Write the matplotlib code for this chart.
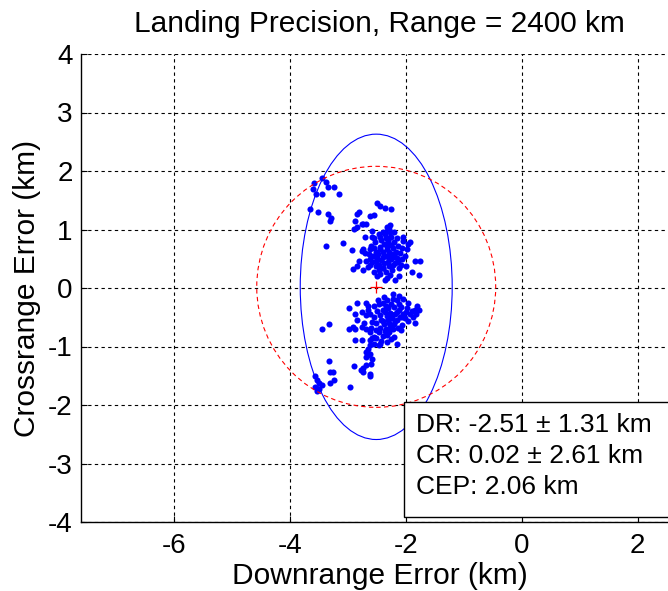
import numpy as np
import matplotlib
matplotlib.use("Agg")
import matplotlib.pyplot as plt
from matplotlib.patches import Ellipse, Circle, Rectangle

plt.rcParams['font.family'] = ['Liberation Sans', 'DejaVu Sans']

# Impact points (downrange, crossrange) in km
dr_upper_left = [-3.60, -3.58, -3.44, -3.38, -3.35, -3.24, -3.15, -3.44, -3.55, -3.66,
                 -3.51, -3.35, -3.29, -3.31, -3.37, -3.09]
cr_upper_left = [1.69, 1.79, 1.88, 1.82, 1.73, 1.73, 1.60, 1.60, 1.60, 1.35,
                 1.30, 1.27, 1.19, 1.15, 0.71, 0.77]

dr_upper = [-2.49, -2.45, -2.36, -2.25, -2.55, -2.62, -2.80, -2.84, -2.87, -2.76,
            -2.73, -2.69, -2.89, -2.84, -2.33, -2.29, -2.28, -2.71, -2.58, -2.55,
            -2.47, -2.36, -2.25, -2.15, -2.04, -1.93, -1.96, -2.92, -2.76, -2.73,
            -2.62, -2.55, -2.44, -2.33, -2.22, -2.07, -1.98, -2.80, -2.69, -2.62,
            -2.51, -2.40, -2.29, -2.18, -2.07, -1.85, -1.76, -2.91, -2.84, -2.73,
            -2.62, -2.51, -2.40, -2.29, -2.22, -2.11, -2.00, -1.89, -1.78, -2.55,
            -2.44, -2.33, -2.18, -2.11, -2.36,
            -2.28, -2.27, -2.30, -2.26, -2.29, -2.27, -2.31, -2.42, -2.38, -2.45,
            -2.40, -2.48, -2.35, -2.43, -2.50, -2.37, -2.46, -2.52, -2.56, -2.58,
            -2.20, -2.17, -2.22, -2.13, -2.19, -2.24, -2.14, -2.10, -2.05, -2.08,
            -2.34, -2.40, -2.33, -2.25, -2.35, -2.47, -2.60, -2.64, -2.53, -2.32,
            -2.21, -2.16, -2.02, -2.44, -2.39, -2.28, -2.50, -2.66, -2.70, -2.58]
cr_upper = [1.45, 1.40, 1.37, 1.35, 1.25, 1.23, 1.30, 1.27, 1.14, 1.10,
            1.10, 1.09, 1.01, 1.05, 1.05, 1.01, 1.08, 0.88, 0.88, 0.85,
            0.92, 0.92, 0.88, 0.85, 0.88, 0.79, 0.75, 0.65, 0.63, 0.66,
            0.66, 0.69, 0.66, 0.72, 0.69, 0.69, 0.66, 0.46, 0.46, 0.50,
            0.46, 0.53, 0.50, 0.53, 0.50, 0.46, 0.46, 0.32, 0.37, 0.30,
            0.40, 0.37, 0.34, 0.37, 0.40, 0.34, 0.37, 0.27, 0.23, 0.27,
            0.24, 0.17, 0.14, 0.21, 0.14,
            0.95, 0.88, 0.80, 0.74, 0.62, 0.56, 0.45, 0.82, 0.75, 0.70,
            0.62, 0.58, 0.55, 0.48, 0.52, 0.42, 0.40, 0.62, 0.55, 0.44,
            0.78, 0.62, 0.58, 0.45, 0.42, 0.30, 0.72, 0.60, 0.80, 0.40,
            0.86, 0.95, 0.66, 0.50, 0.28, 0.30, 0.72, 0.58, 0.78, 0.98,
            0.96, 0.52, 0.55, 0.88, 0.35, 0.22, 0.20, 0.36, 0.60, 0.97]

dr_lower = [-2.84, -2.69, -2.98, -2.87, -2.76, -2.65, -2.55, -2.47, -2.40, -2.33,
            -2.22, -2.15, -2.11, -2.04, -1.96, -1.85, -1.78, -1.82, -1.93, -2.00,
            -2.07, -2.15, -2.25, -2.36, -2.44, -2.55, -2.62, -2.69, -2.84, -2.91,
            -2.98, -2.87, -2.76, -2.69, -2.51, -2.40, -2.29, -2.18, -2.07, -1.96,
            -1.85, -2.62, -2.55, -2.47, -2.36, -2.29, -2.22, -2.87, -2.76, -2.62,
            -2.51, -2.44, -2.33, -2.15, -2.65, -2.65, -2.62, -2.69,
            -2.35, -2.30, -2.25, -2.20, -2.27, -2.32, -2.18, -2.12, -2.08, -2.05,
            -2.40, -2.42, -2.37, -2.30, -2.24, -2.16, -2.10, -2.02, -1.98, -1.90,
            -2.35, -2.28, -2.20, -2.14, -2.45, -2.50, -2.48, -2.38, -2.22, -2.12,
            -2.58, -2.52, -2.58, -2.40, -2.32, -2.26, -2.20, -2.08, -1.88, -1.80,
            -2.66, -2.72, -2.60, -2.55, -2.47, -2.42, -2.62, -2.68, -2.60, -2.58]
cr_lower = [-0.25, -0.25, -0.34, -0.44, -0.41, -0.37, -0.31, -0.28, -0.25, -0.21,
            -0.18, -0.21, -0.28, -0.18, -0.25, -0.37, -0.37, -0.44, -0.44, -0.41,
            -0.50, -0.41, -0.44, -0.41, -0.47, -0.50, -0.44, -0.47, -0.54, -0.66,
            -0.70, -0.70, -0.66, -0.70, -0.60, -0.57, -0.60, -0.57, -0.63, -0.57,
            -0.60, -0.76, -0.83, -0.76, -0.73, -0.76, -0.70, -0.89, -0.89, -0.89,
            -0.86, -0.95, -0.92, -0.95, -1.05, -1.15, -1.12, -1.18,
            -0.30, -0.35, -0.28, -0.33, -0.42, -0.48, -0.45, -0.38, -0.32, -0.45,
            -0.38, -0.55, -0.62, -0.55, -0.52, -0.55, -0.50, -0.52, -0.35, -0.40,
            -0.70, -0.66, -0.62, -0.68, -0.68, -0.40, -0.20, -0.15, -0.10, -0.14,
            -0.58, -0.72, -0.85, -0.82, -0.80, -0.88, -0.84, -0.72, -0.50, -0.30,
            -0.30, -0.60, -0.68, -0.95, -0.98, -0.90, -0.98, -1.10, -1.30, -1.22]

dr_lower_left = [-3.56, -3.53, -3.49, -3.56, -3.45, -3.53, -3.49, -3.33, -3.31, -3.26,
                 -3.24, -3.31, -2.97, -2.89, -2.78, -2.73, -2.68, -2.62, -2.62, -2.73,
                 -3.44, -3.33]
cr_lower_left = [-1.50, -1.57, -1.63, -1.70, -1.66, -1.76, -1.73, -1.25, -1.44, -1.44,
                 -1.57, -1.63, -1.70, -1.34, -1.41, -1.37, -1.31, -1.47, -1.50, -1.44,
                 -0.70, -0.62]

# Summary statistics (km)
dr_mean, dr_sigma = -2.51, 1.31
cr_mean, cr_sigma = 0.02, 2.61
cep = 2.06

title = "Landing Precision, Range = 2400 km"
x_ticks = [-6, -4, -2, 0, 2]
y_ticks = [-4, -3, -2, -1, 0, 1, 2, 3, 4]

dr_all = np.array(dr_upper_left + dr_upper + dr_lower + dr_lower_left)
cr_all = np.array(cr_upper_left + cr_upper + cr_lower + cr_lower_left)

fig = plt.figure(figsize=(6.68, 5.91), dpi=100)
W, H = 668, 591
ax_left, ax_bottom, ax_top = 81, 522, 54
xlim = (-7.6, 2.7)
ax_w = (xlim[1] - xlim[0]) * 58.0
ax = fig.add_axes([ax_left / W, (H - ax_bottom) / H, ax_w / W, (ax_bottom - ax_top) / H])

ax.plot(dr_all, cr_all, 'o', color='#0000ff', markersize=4.4, markeredgewidth=0, zorder=3)

ax.add_patch(Ellipse((dr_mean, cr_mean), 2 * dr_sigma, 2 * cr_sigma, fill=False,
                     edgecolor='#0000ff', linewidth=0.8, zorder=4))
ax.add_patch(Circle((dr_mean, cr_mean), cep, fill=False, edgecolor='#ff0000',
                    linewidth=0.8, linestyle=(0, (4, 3)), zorder=4))
ax.plot([dr_mean], [cr_mean], '+', color='#ff0000', markersize=9, markeredgewidth=0.9, zorder=5)

ax.set_xlim(*xlim)
ax.set_ylim(-4, 4)
ax.set_xticks(x_ticks)
ax.set_yticks(y_ticks)
ax.set_xticklabels([str(t) for t in x_ticks])
ax.set_yticklabels([str(t) for t in y_ticks])
ax.tick_params(direction='in', length=4, width=0.8, labelsize=20)
ax.tick_params(axis='x', pad=8)
ax.tick_params(axis='y', pad=6)
ax.spines['top'].set_visible(False)
ax.spines['right'].set_visible(False)
for s in ('left', 'bottom'):
    ax.spines[s].set_linewidth(1.0)
ax.grid(True, color='black', linestyle=(0, (3, 3)), linewidth=0.8)
ax.set_axisbelow(True)

ax.set_title(title, fontsize=21.5, pad=16)
ax.set_xlabel("Downrange Error (km)", fontsize=21.5, labelpad=2)
ax.set_ylabel("Crossrange Error (km)", fontsize=21.5, labelpad=5)

# Statistics box
def px_to_data(px, py):
    return xlim[0] + (px - ax_left) / 58.0, 4 - (py - ax_top) / ((ax_bottom - ax_top) / 8)

bx0, by0 = px_to_data(404, 517)
bx1, by1 = px_to_data(700, 402)
ax.add_patch(Rectangle((bx0, by0), bx1 - bx0, by1 - by0, facecolor='white',
                       edgecolor='black', linewidth=1.0, zorder=6, clip_on=False))
lines = [f"DR: {dr_mean:.2f} \u00b1 {dr_sigma:.2f} km",
         f"CR: {cr_mean:.2f} \u00b1 {cr_sigma:.2f} km",
         f"CEP: {cep:.2f} km"]
for i, txt in enumerate(lines):
    tx, ty = px_to_data(416, 425 + i * 31)
    ax.text(tx, ty, txt, fontsize=19, va='center', ha='left', zorder=7)

fig.savefig("out.png", dpi=100)
